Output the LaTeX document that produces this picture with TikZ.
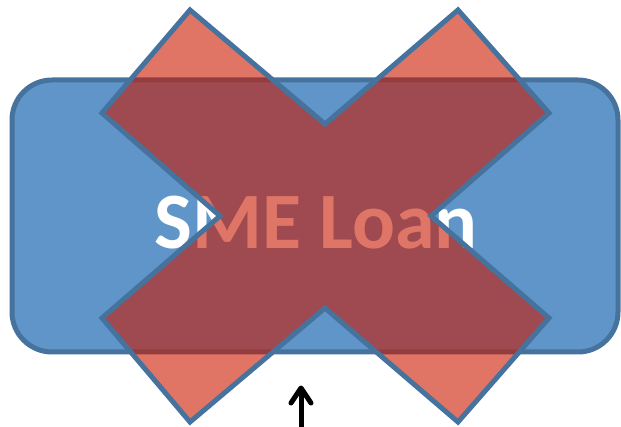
\documentclass[tikz,border=0pt]{standalone}
\usepackage{fontspec}
\setmainfont{Carlito}
\usetikzlibrary{arrows.meta}
\definecolor{boxfill}{RGB}{95,149,200}
\definecolor{boxline}{RGB}{70,114,158}
\definecolor{xred}{RGB}{203,25,0}
\tikzset{
  loanbox/.style={fill=boxfill,draw=boxline,line width=5pt,rounded corners=40pt},
  crossshape/.style={fill=xred,fill opacity=0.6,draw=boxline,draw opacity=1,line width=5pt,line join=miter},
  headline/.style={draw=black,line width=5pt,line cap=round,line join=round}
}
\begin{document}
\begin{tikzpicture}[x=1pt,y=-1pt]
\useasboundingbox (0,0) rectangle (621,427);
\draw[loanbox] (12,80) rectangle (618,352);
\node[text=white,font=\bfseries\fontsize{80}{82}\selectfont,anchor=base,inner sep=0pt] (label) at (316,249) {SME Loan};
\draw[crossshape] (190,10) coordinate (t1) -- (325,124) coordinate (n1) -- (458,10) coordinate (t2)
  -- (549,113) coordinate (p2) -- (431,216) coordinate (n2) -- (549,318) coordinate (p3)
  -- (458,422) coordinate (t3) -- (325,308) coordinate (n3) -- (190,422) coordinate (t4)
  -- (102,318) coordinate (p4) -- (220,216) coordinate (n4) -- (102,113) coordinate (p1) -- cycle;
\coordinate (abot) at (301,430);
\coordinate (atop) at (301,388);
\coordinate (hl) at (291,403);
\coordinate (hr) at (311,403);
\draw[headline,line cap=butt] (abot) -- (atop);
\draw[headline] (hl) -- (atop) -- (hr);
\end{tikzpicture}
\end{document}
